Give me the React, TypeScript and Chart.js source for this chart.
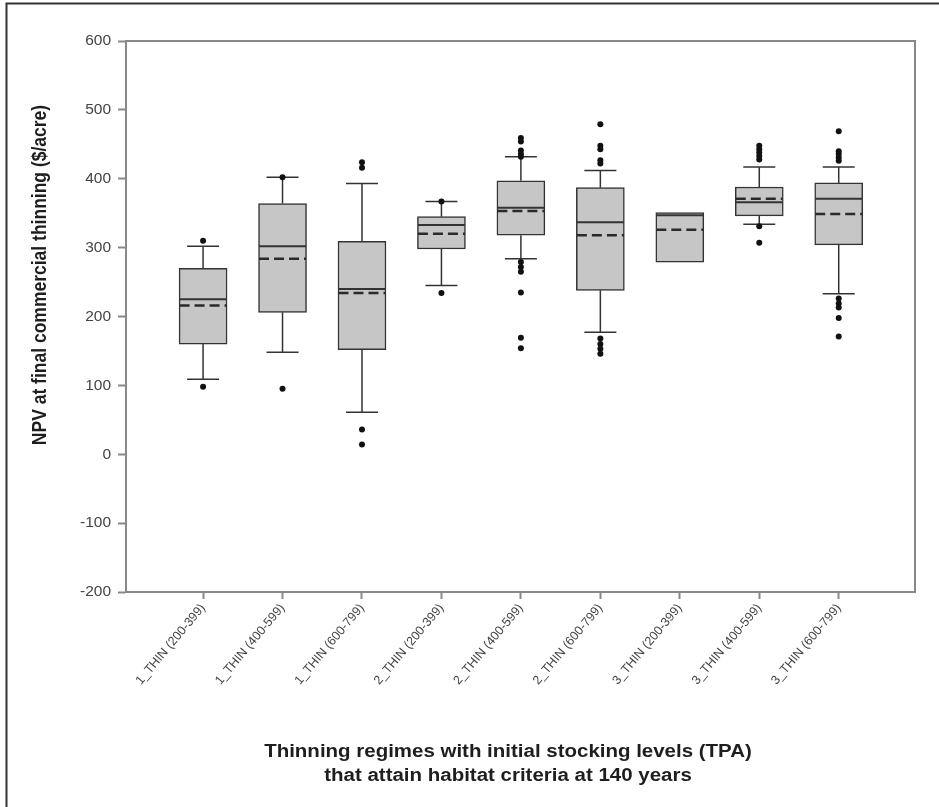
import React, { useEffect, useRef } from "react";
import { Chart, registerables } from "chart.js";

Chart.register(...registerables);

const categories = [
  "1_THIN (200-399)",
  "1_THIN (400-599)",
  "1_THIN (600-799)",
  "2_THIN (200-399)",
  "2_THIN (400-599)",
  "2_THIN (600-799)",
  "3_THIN (200-399)",
  "3_THIN (400-599)",
  "3_THIN (600-799)",
];

const whiskerLow = [109, 148, 61, 245, 284, 177, 279, 334, 233];
const q1 = [160, 206, 152, 298, 318, 238, 279, 346, 304];
const median = [225, 302, 240, 333, 358, 337, 347, 366, 371];
const mean = [216, 284, 234, 320, 353, 318, 326, 371, 349];
const q3 = [270, 364, 309, 345, 397, 387, 351, 388, 394];
const whiskerHigh = [302, 402, 393, 367, 432, 412, 351, 417, 417];

const outliers: number[][] = [
  [310, 98],
  [402, 95],
  [424, 416, 36, 14],
  [367, 234],
  [459, 454, 441, 436, 432, 279, 272, 265, 235, 169, 154],
  [479, 448, 443, 427, 422, 168, 160, 153, 146],
  [],
  [448, 443, 438, 433, 428, 331, 307],
  [469, 440, 436, 431, 426, 226, 219, 213, 198, 171],
];

const yTicks = [-200, -100, 0, 100, 200, 300, 400, 500, 600];

const yTitle = "NPV at final commercial thinning ($/acre)";
const xTitle1 = "Thinning regimes with initial stocking levels (TPA)";
const xTitle2 = "that attain habitat criteria at 140 years";

const FONT = "'Liberation Sans', Arial, sans-serif";

export default function App() {
  const ref = useRef<HTMLCanvasElement>(null);

  useEffect(() => {
    if (!ref.current) return;

    const boxPlugin = {
      id: "boxParts",
      beforeDraw(chart: any) {
        const { ctx } = chart;
        ctx.save();
        ctx.fillStyle = "#fff";
        ctx.fillRect(0, 0, chart.width, chart.height);
        ctx.strokeStyle = "#333";
        ctx.lineWidth = 2;
        ctx.beginPath();
        ctx.moveTo(6.5, chart.height);
        ctx.lineTo(6.5, 3.5);
        ctx.lineTo(chart.width, 3.5);
        ctx.stroke();
        ctx.restore();
      },
      beforeDatasetsDraw(chart: any) {
        const { ctx, scales } = chart;
        const x = scales.x;
        const y = scales.y;
        const capHalf = 16;
        ctx.save();
        ctx.strokeStyle = "#333";
        ctx.lineWidth = 1.5;
        categories.forEach((_, i) => {
          const cx = x.getPixelForValue(i + 1);
          if (whiskerHigh[i] > q3[i]) {
            ctx.beginPath();
            ctx.moveTo(cx, y.getPixelForValue(q3[i]));
            ctx.lineTo(cx, y.getPixelForValue(whiskerHigh[i]));
            ctx.moveTo(cx - capHalf, y.getPixelForValue(whiskerHigh[i]));
            ctx.lineTo(cx + capHalf, y.getPixelForValue(whiskerHigh[i]));
            ctx.stroke();
          }
          if (whiskerLow[i] < q1[i]) {
            ctx.beginPath();
            ctx.moveTo(cx, y.getPixelForValue(q1[i]));
            ctx.lineTo(cx, y.getPixelForValue(whiskerLow[i]));
            ctx.moveTo(cx - capHalf, y.getPixelForValue(whiskerLow[i]));
            ctx.lineTo(cx + capHalf, y.getPixelForValue(whiskerLow[i]));
            ctx.stroke();
          }
        });
        ctx.restore();
      },
      afterDatasetDraw(chart: any, args: any) {
        if (args.index !== 0) return;
        const { ctx, scales } = chart;
        const x = scales.x;
        const y = scales.y;
        const half = 23.5;
        ctx.save();
        categories.forEach((_, i) => {
          const cx = x.getPixelForValue(i + 1);
          ctx.strokeStyle = "#333";
          ctx.lineWidth = 2;
          ctx.setLineDash([]);
          ctx.beginPath();
          ctx.moveTo(cx - half, y.getPixelForValue(median[i]));
          ctx.lineTo(cx + half, y.getPixelForValue(median[i]));
          ctx.stroke();
          ctx.strokeStyle = "#2a2a2a";
          ctx.lineWidth = 2.5;
          ctx.setLineDash([10, 5]);
          ctx.beginPath();
          ctx.moveTo(cx - half, y.getPixelForValue(mean[i]));
          ctx.lineTo(cx + half, y.getPixelForValue(mean[i]));
          ctx.stroke();
        });
        ctx.restore();
      },
      afterDraw(chart: any) {
        const { ctx, chartArea } = chart;
        ctx.save();
        ctx.strokeStyle = "#888";
        ctx.lineWidth = 2;
        ctx.strokeRect(chartArea.left, chartArea.top, chartArea.right - chartArea.left, chartArea.bottom - chartArea.top);
        ctx.fillStyle = "#1e1e1e";
        ctx.font = `bold 17.5px ${FONT}`;
        ctx.textAlign = "center";
        ctx.textBaseline = "middle";
        ctx.translate(40, 275);
        ctx.scale(1.15, 1);
        ctx.rotate(-Math.PI / 2);
        ctx.fillText(yTitle, 0, 0);
        ctx.setTransform(1, 0, 0, 1, 0, 0);
        ctx.translate(508, 0);
        ctx.scale(1.17, 1);
        ctx.fillText(xTitle1, 0, 752);
        ctx.fillText(xTitle2, 0, 776);
        ctx.restore();
      },
    };

    const boxData = categories.map((_, i) => ({ x: i + 1, y: [q1[i], q3[i]] }));
    const outlierData: { x: number; y: number }[] = [];
    outliers.forEach((arr, i) => arr.forEach((v) => outlierData.push({ x: i + 1, y: v })));

    const chart = new Chart(ref.current, {
      type: "bar",
      data: {
        datasets: [
          {
            type: "bar",
            data: boxData as any,
            backgroundColor: "#c6c6c6",
            borderColor: "#333",
            borderWidth: 1.5,
            borderSkipped: false,
            barThickness: 48,
            order: 1,
          } as any,
          {
            type: "scatter",
            data: outlierData,
            backgroundColor: "#111",
            borderColor: "#111",
            pointRadius: 3,
            pointBorderWidth: 0,
            order: 0,
          } as any,
        ],
      },
      options: {
        responsive: false,
        animation: false,
        layout: { padding: { top: 41, right: 24, left: 0, bottom: 0 } },
        plugins: { legend: { display: false }, tooltip: { enabled: false } },
        scales: {
          x: {
            type: "linear",
            min: 0.03,
            max: 9.96,
            offset: false,
            grid: {
              offset: false,
              drawOnChartArea: false,
              drawTicks: true,
              tickLength: 7,
              tickWidth: 2,
              tickColor: "#888",
            },
            border: { display: true, color: "#888", width: 2 },
            afterBuildTicks: (scale: any) => {
              scale.ticks = categories.map((_, i) => ({ value: i + 1 }));
            },
            afterFit: (scale: any) => {
              scale.height = 215;
            },
            ticks: {
              autoSkip: false,
              minRotation: 50,
              maxRotation: 50,
              padding: 2,
              color: "#444",
              font: { family: FONT, size: 12.5 },
              callback: (v: any) => categories[Number(v) - 1] ?? "",
            },
          },
          y: {
            type: "linear",
            min: -200,
            max: 600,
            grid: {
              drawOnChartArea: false,
              drawTicks: true,
              tickLength: 8,
              tickWidth: 2,
              tickColor: "#888",
            },
            border: { display: true, color: "#888", width: 2 },
            afterBuildTicks: (scale: any) => {
              scale.ticks = yTicks.map((v) => ({ value: v }));
            },
            afterFit: (scale: any) => {
              scale.width = 126;
            },
            ticks: {
              padding: 7,
              color: "#444",
              font: { family: FONT, size: 15.5 },
              callback: (v: any) => String(v),
            },
          },
        },
      } as any,
      plugins: [boxPlugin],
    });

    return () => chart.destroy();
  }, []);

  return (
    <div style={{ position: "absolute", left: 0, top: 0, width: 939, height: 807, background: "#fff" }}>
      <canvas ref={ref} width={939} height={807} style={{ display: "block" }} />
    </div>
  );
}
